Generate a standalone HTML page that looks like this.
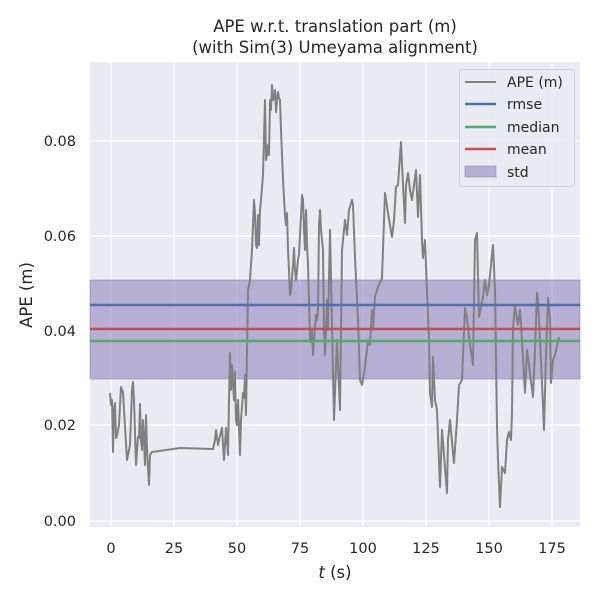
<!DOCTYPE html>
<html><head><style>body{margin:0;background:#fff}svg{display:block}</style></head><body>
<svg width="600" height="600" xmlns="http://www.w3.org/2000/svg" font-family="'DejaVu Sans','Liberation Sans',sans-serif" fill="#262626">
<rect width="600" height="600" fill="#fff"/>
<rect x="90" y="62" width="490" height="465" fill="#eaeaf2"/>
<g stroke="#fff" stroke-width="1.2">
<line x1="111" y1="62" x2="111" y2="527"/><line x1="174" y1="62" x2="174" y2="527"/><line x1="237" y1="62" x2="237" y2="527"/><line x1="300" y1="62" x2="300" y2="527"/><line x1="363" y1="62" x2="363" y2="527"/><line x1="426" y1="62" x2="426" y2="527"/><line x1="489" y1="62" x2="489" y2="527"/><line x1="552" y1="62" x2="552" y2="527"/>
<line x1="90" y1="521" x2="580" y2="521"/><line x1="90" y1="425" x2="580" y2="425"/><line x1="90" y1="331" x2="580" y2="331"/><line x1="90" y1="236" x2="580" y2="236"/><line x1="90" y1="141" x2="580" y2="141"/>
</g>
<rect x="90" y="280" width="490" height="99" fill="#8172b3" fill-opacity="0.5" stroke="#8172b3" stroke-opacity="0.5"/>
<polyline fill="none" stroke="#808080" stroke-width="2" stroke-linejoin="round" points="110,393 111,405 112,400 113,452 114,410 115,403 116,438 117,436 119,425 121,387 123,392 124,410 127,460 130,445 132,390 133,382 134,400 136,465 138,437 139,438 140,404 141,440 142,450 143,420 144,440 145,465 146,415 147,450 148,468 149,485 150,455 152,452 180,448 213,449 215,440 216,430 218,445 219,440 222,428 224,460 226,428 228,455 229,400 230,353 231,390 232,365 234,400 235,372 236,420 237,425 238,400 240,455 241,420 243,393 244,398 245,375 246,415 248,290 250,280 252,250 254,200 255,213 256,245 257,248 258,215 259,245 260,210 261,200 263,175 265,100 266,160 267,155 268,145 269,155 270,100 271,110 272,85 273,100 274,98 275,90 276,112 277,100 278,92 279,98 280,100 281,130 283,180 285,215 286,225 287,213 288,250 289,270 290,295 291,290 293,265 294,248 295,270 296,280 298,260 299,255 302,195 303,200 304,230 305,250 306,210 307,245 308,265 309,300 310,340 311,342 312,330 313,355 314,340 316,315 317,320 318,310 319,225 320,210 321,230 323,250 324,330 325,355 327,300 328,330 330,230 334,420 337,340 340,410 342,250 343,240 345,220 347,235 349,210 352,200 353,205 355,257 358,320 360,380 362,385 365,367 368,340 370,345 372,310 373,330 375,297 378,287 382,278 385,193 388,213 392,237 394,220 396,187 398,185 401,142 402,165 405,223 406,185 408,173 410,190 412,200 416,170 418,217 420,175 422,240 423,258 425,240 427,293 429,340 430,393 432,407 433,357 435,400 437,410 440,487 442,430 444,455 447,493 448,440 450,420 454,463 457,420 459,385 462,380 465,308 467,318 470,345 473,365 475,240 477,233 479,317 483,297 485,280 487,295 489,285 493,245 495,290 497,427 498,460 500,507 502,467 505,473 507,440 509,432 511,440 512,413 513,327 515,307 518,325 520,310 522,340 525,393 527,350 529,365 533,397 535,350 537,293 538,300 539,320 541,360 544,430 546,355 548,298 550,320 551,383 553,360 555,355 559,337"/>
<line x1="90" y1="305" x2="580" y2="305" stroke="#4c72b0" stroke-width="2.5"/>
<line x1="90" y1="341" x2="580" y2="341" stroke="#55a868" stroke-width="2.5"/>
<line x1="90" y1="329" x2="580" y2="329" stroke="#c44e52" stroke-width="2.5"/>
<g font-size="16.5" text-anchor="middle">
<text x="335" y="32">APE w.r.t. translation part (m)</text>
<text x="335" y="53">(with Sim(3) Umeyama alignment)</text>
</g>
<g font-size="14.5" text-anchor="middle">
<text x="111" y="553">0</text><text x="174" y="553">25</text><text x="237" y="553">50</text><text x="300" y="553">75</text><text x="363" y="553">100</text><text x="426" y="553">125</text><text x="489" y="553">150</text><text x="552" y="553">175</text>
<text x="335" y="578" font-size="16.5"><tspan font-style="italic">t</tspan> (s)</text>
</g>
<g font-size="14.5" text-anchor="end">
<text x="76" y="526">0.00</text><text x="76" y="430">0.02</text><text x="76" y="336">0.04</text><text x="76" y="241">0.06</text><text x="76" y="146">0.08</text>
</g>
<text transform="translate(32,295) rotate(-90)" font-size="16.5" text-anchor="middle">APE (m)</text>
<rect x="459.5" y="69.5" width="115" height="117" rx="3" fill="#eaeaf2" fill-opacity="0.8" stroke="#d0d0d8"/>
<line x1="465" y1="82" x2="496" y2="82" stroke="#808080" stroke-width="2"/>
<line x1="465" y1="104" x2="496" y2="104" stroke="#4c72b0" stroke-width="2.5"/>
<line x1="465" y1="127" x2="496" y2="127" stroke="#55a868" stroke-width="2.5"/>
<line x1="465" y1="149" x2="496" y2="149" stroke="#c44e52" stroke-width="2.5"/>
<rect x="465" y="166" width="31" height="11" fill="#8172b3" fill-opacity="0.5" stroke="#8172b3" stroke-opacity="0.5"/>
<g font-size="14">
<text x="507" y="87">APE (m)</text><text x="507" y="109">rmse</text><text x="507" y="132">median</text><text x="507" y="154">mean</text><text x="507" y="177">std</text>
</g>
</svg>
</body></html>
